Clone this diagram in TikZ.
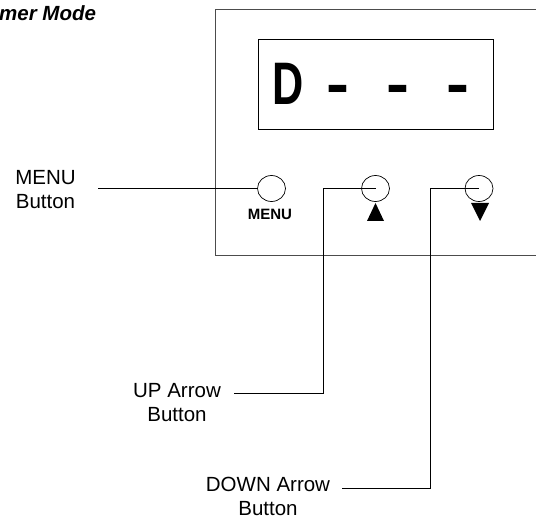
\documentclass[tikz,border=0pt]{standalone}
\usepackage{fontspec}
\setmainfont{Liberation Sans}
\usepackage{tikz}
\usetikzlibrary{shapes.geometric}

\begin{document}
\begin{tikzpicture}[
    x=1pt, y=-1pt,
    lbl/.style={align=center, inner sep=0pt, font=\fontsize{20.5}{23.5}\selectfont},
    keytext/.style={inner sep=0pt, anchor=base, font=\fontsize{15}{15}\selectfont\bfseries},
    lcd/.style={inner sep=0pt, anchor=base, font=\fontsize{60}{60}\selectfont\bfseries},
    frame/.style={draw, inner sep=0pt, anchor=north west},
    btn/.style={draw, ellipse, line width=0.7pt, inner sep=0pt, minimum width=28pt, minimum height=26pt},
    lead/.style={draw, line width=0.8pt}
  ]
  \useasboundingbox (0,0) rectangle (536,516);

  % Titel (links abgeschnitten)
  \node[anchor=base west, inner sep=0pt, font=\fontsize{20.5}{20.5}\selectfont\bfseries\itshape] (title) at (-1,21) {mer Mode};

  % Gehaeuse und Anzeige
  \node[frame, draw=black!70, line width=0.8pt, minimum width=320.5pt, minimum height=245.5pt] (unit) at (215,9.5) {};
  \node[frame, line width=1pt, minimum width=235pt, minimum height=90pt] (disp) at (257.5,39) {};

  \node[lcd] (d0) at (288.5,105) {\scalebox{0.72}[1]{D}};
  \foreach \i/\x in {1/337.5, 2/397.5, 3/457.5}{
    \node[lcd] (d\i) at (\x,105) {\scalebox{1.15}[1]{-}};
  }

  % Tasten
  \node[btn] (menu) at (271.5,188.5) {};
  \node[btn] (up)   at (375.5,188.5) {};
  \node[btn] (down) at (479,188.5) {};

  \node[keytext] (menutxt) at (270,220) {MENU};
  \fill (367,221) -- (384,221) -- (375.5,203) -- cycle;
  \fill (471,203) -- (489,203) -- (480,221) -- cycle;

  % Beschriftungen
  \node[lbl] (lblmenu) at (45.5,189.4) {MENU\\Button};
  \node[lbl] (lblup)   at (177,402.4) {UP Arrow\\Button};
  \node[lbl] (lbldown) at (268,496.4) {DOWN Arrow\\Button};

  % Hinweislinien
  \coordinate (m0) at (98,188.5);
  \coordinate (u1) at (323,393);
  \coordinate (u0) at (234,393);
  \coordinate (w1) at (430,488);
  \coordinate (w0) at (342,488);

  \draw[lead] (m0) -- (menu.west);
  \draw[lead] (up.center) -| (u1) -- (u0);
  \draw[lead] (down.center) -| (w1) -- (w0);

\end{tikzpicture}
\end{document}
